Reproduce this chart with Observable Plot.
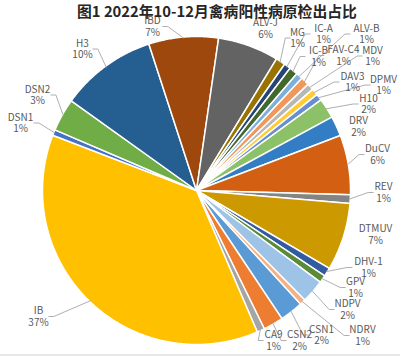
<!DOCTYPE html>
<html><head><meta charset="utf-8">
<script src="https://cdn.jsdelivr.net/npm/d3@7"></script>
<script src="https://cdn.jsdelivr.net/npm/@observablehq/plot@0.6"></script>
<style>
html,body{margin:0;padding:0;background:#fff;}
#wrap{position:relative;width:400px;height:354px;border-bottom:2px solid #e8e8e8;overflow:hidden;font-family:"Noto Sans CJK SC","Noto Sans",sans-serif;}
#title{position:absolute;left:77px;top:0px;white-space:nowrap;font-size:14.8px;font-weight:bold;color:#262626;line-height:21px;}
#chart{position:absolute;left:0;top:0;}
</style></head>
<body>
<div id="wrap"><div id="chart"></div><div id="title">图1 2022年10-12月禽病阳性病原检出占比</div></div>
<script>
// ---- data ----
const categories = ["CSN1","CSN2","CA9","IB","DSN1","DSN2","H3","IBD","ALV-J","MG","IC-A","IC-B","ALV-B","FAV-C4","MDV","DAV3","DPMV","H10","DRV","DuCV","REV","DTMUV","DHV-1","GPV","NDPV","NDRV"];
const values = [2.45,2.1,0.8,37.3,0.6,3.45,10.1,7.3,6.4,1.0,0.7,0.9,0.7,0.9,0.7,0.7,0.7,2.1,2.1,6.25,0.9,7.1,0.9,0.8,2.45,0.6];
// ---- styles ----
const colors = ["#5B9BD5","#ED7D31","#A5A5A5","#FFC000","#4472C4","#70AD47",
  "#255E91","#9E480E","#636363","#997300","#264478","#43682B",
  "#7CAFDD","#F1975A","#B7B7B7","#FFCD33","#698ED0","#8CC168",
  "#327DC3","#D25F12","#848484","#CC9900","#335BA1","#5A8B39",
  "#9DC3E6","#F4B083"];
// label layout (pixel centres of the two-line label blocks)
const labelX = [321,299,273,38,20,37,82,152,265,297,323,318,366,343,372,352,383,368,358,377,383,375,368,355,347,362];
const labelY = [334.5,340,340,316,122.5,94.5,48.5,26,28,37.5,33.5,56,33.5,55,55.5,81.5,84.5,103.5,126,154,192,234,267,287,309,335];
const noLeader = ["ALV-J","DTMUV","DRV"];
const cx = 196, cy = 190, R = 154, W = 400, H = 354;
const startDeg = 137.5;

const rows = categories.map((name,i)=>({name, value: values[i], lx: labelX[i], ly: labelY[i]}));
const total = d3.sum(values);
const arcs = d3.pie().sort(null).value(d=>d.value)
  .startAngle(startDeg*Math.PI/180).endAngle(startDeg*Math.PI/180 + 2*Math.PI)(rows);

const slicePts = arcs.flatMap(a=>{
  const pts=[{name:a.data.name,x:cx,y:cy}];
  const n=Math.max(2,Math.ceil((a.endAngle-a.startAngle)/(Math.PI/360)));
  for(let i=0;i<=n;i++){const t=a.startAngle+(a.endAngle-a.startAngle)*i/n;
    pts.push({name:a.data.name,x:cx+R*Math.sin(t),y:cy-R*Math.cos(t)});}
  return pts;
});

const labels = arcs.map(a=>{
  const pct=Math.round(a.data.value/total*100);
  return {name:a.data.name, x:a.data.lx, y:a.data.ly, text:`${a.data.name}\n${pct}%`, pct};
});

const leaders = arcs.filter(a=>!noLeader.includes(a.data.name)).flatMap(a=>{
  const mid=(a.startAngle+a.endAngle)/2;
  const px=cx+(R-1)*Math.sin(mid), py=cy-(R-1)*Math.cos(mid);
  const pct=Math.round(a.data.value/total*100);
  const w=Math.max(a.data.name.length,(pct+"%").length)*6.2;
  const lx=a.data.lx, ly=a.data.ly;
  let s,e;
  if(px<lx-w/2){s={x:lx-w/2-1,y:ly};e={x:lx-w/2-6,y:ly};}
  else if(px>lx+w/2){s={x:lx+w/2+1,y:ly};e={x:lx+w/2+6,y:ly};}
  else if(py<ly){s={x:lx,y:ly-13};e={x:lx,y:ly-16};}
  else {s={x:lx,y:ly+13};e={x:lx,y:ly+16};}
  return [{k:a.data.name,...s},{k:a.data.name,...e},{k:a.data.name,x:px,y:py}];
});

const chart = Plot.plot({
  width: W, height: H,
  margin: 0,
  x: {domain:[0,W], range:[0,W], axis:null},
  y: {domain:[0,H], range:[0,H], axis:null},
  color: {domain: categories, range: colors},
  style: {fontFamily:'"Noto Sans CJK SC","Noto Sans",sans-serif', background:"transparent"},
  marks: [
    Plot.line(slicePts,{x:"x",y:"y",z:"name",fill:"name",stroke:"white",strokeWidth:1.5,curve:"linear-closed"}),
    Plot.line(leaders,{x:"x",y:"y",z:"k",stroke:"#a6a6a6",strokeWidth:0.9}),
    Plot.text(labels,{x:"x",y:"y",text:"text",fill:"#595959",fontSize:10,lineHeight:1.15,lineAnchor:"middle",textAnchor:"middle"})
  ]
});
document.getElementById("chart").appendChild(chart);
</script>
</body></html>
